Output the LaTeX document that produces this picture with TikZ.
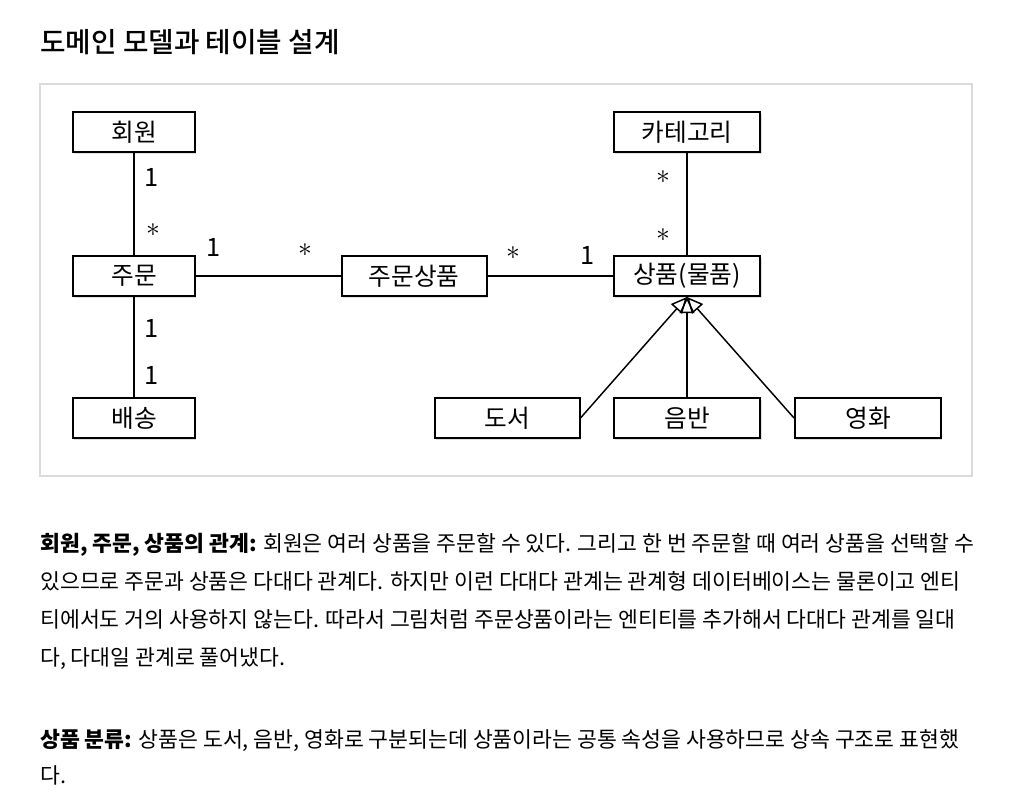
\documentclass[tikz,border=0pt]{standalone}
\usepackage{fontspec}
\setmainfont{Noto Sans CJK KR}
\newfontfamily\titlefont{Noto Sans CJK KR Medium}
\usetikzlibrary{arrows.meta,shadows}

\begin{document}
\begin{tikzpicture}[x=0.75pt,y=-0.75pt,
  ent/.style={draw,line width=1.5pt,fill=white,minimum height=30pt,inner sep=0pt,
    font=\fontsize{18.5}{20}\selectfont,
    drop shadow={shadow xshift=1pt,shadow yshift=-1.5pt,opacity=.25}},
  mult/.style={inner sep=0pt,font=\fontsize{19}{20}\selectfont},
  many/.style={mult,font=\fontsize{22}{24}\selectfont},
  txt/.style={anchor=base west,inner sep=0pt,font=\fontsize{16.2}{18}\selectfont},
  gen/.style={-{Triangle[open,length=12pt,width=11pt]},line width=1.1pt},
  assoc/.style={line width=1.1pt}]
\useasboundingbox (0,0) rectangle (1020,810);
\node[anchor=base west,inner sep=0pt,font=\fontsize{20.8}{22}\titlefont] (title) at (40,52) {도메인 모델과 테이블 설계};
\draw[line width=1.5pt,black!14] (40,84) rectangle (972,476);
% entities
\node[ent,minimum width=91.5pt] (mem) at (134,132) {회원};
\node[ent,minimum width=91.5pt] (ord) at (134,276) {주문};
\node[ent,minimum width=91.5pt] (dlv) at (134,418) {배송};
\node[ent,minimum width=108.75pt] (oitem) at (414,276) {주문상품};
\node[ent,minimum width=110pt] (cat) at (687,132) {카테고리};
\node[ent,minimum width=110pt] (prod) at (687,276) {상품(물품)};
\node[ent,minimum width=108.75pt] (book) at (507,418) {도서};
\node[ent,minimum width=110pt] (album) at (687,418) {음반};
\node[ent,minimum width=109.5pt] (movie) at (868,418) {영화};
% associations
\draw[assoc] (mem) -- (ord);
\draw[assoc] (ord) -- (dlv);
\draw[assoc] (ord) -- (oitem);
\draw[assoc] (oitem) -- (prod);
\draw[assoc] (cat) -- (prod);
% inheritance
\draw[gen] (book.east) -- (prod.south);
\draw[gen] (album.north) -- (prod.south);
\draw[gen] (movie.west) -- (prod.south);
% multiplicities
\node[mult] (m1) at (152,177) {1};
\node[many] (m2) at (153,230) {$\ast$};
\node[mult] (m3) at (152,328) {1};
\node[mult] (m4) at (152,375) {1};
\node[mult] (m5) at (214,247) {1};
\node[many] (m6) at (305,250) {$\ast$};
\node[many] (m7) at (513,253) {$\ast$};
\node[mult] (m8) at (588,255) {1};
\node[many] (m9) at (663,177) {$\ast$};
\node[many] (m10) at (663,235) {$\ast$};
% text
\node[txt] (l1) at (40,551) {\textbf{회원, 주문, 상품의 관계:} 회원은 여러 상품을 주문할 수 있다. 그리고 한 번 주문할 때 여러 상품을 선택할 수};
\node[txt] (l2) at (40,589) {있으므로 주문과 상품은 다대다 관계다. 하지만 이런 다대다 관계는 관계형 데이터베이스는 물론이고 엔티};
\node[txt] (l3) at (40,627) {티에서도 거의 사용하지 않는다. 따라서 그림처럼 주문상품이라는 엔티티를 추가해서 다대다 관계를 일대};
\node[txt] (l4) at (40,665) {다, 다대일 관계로 풀어냈다.};
\node[txt] (l5) at (40,747) {\textbf{상품 분류:} 상품은 도서, 음반, 영화로 구분되는데 상품이라는 공통 속성을 사용하므로 상속 구조로 표현했};
\node[txt] (l6) at (40,783) {다.};
\end{tikzpicture}
\end{document}
